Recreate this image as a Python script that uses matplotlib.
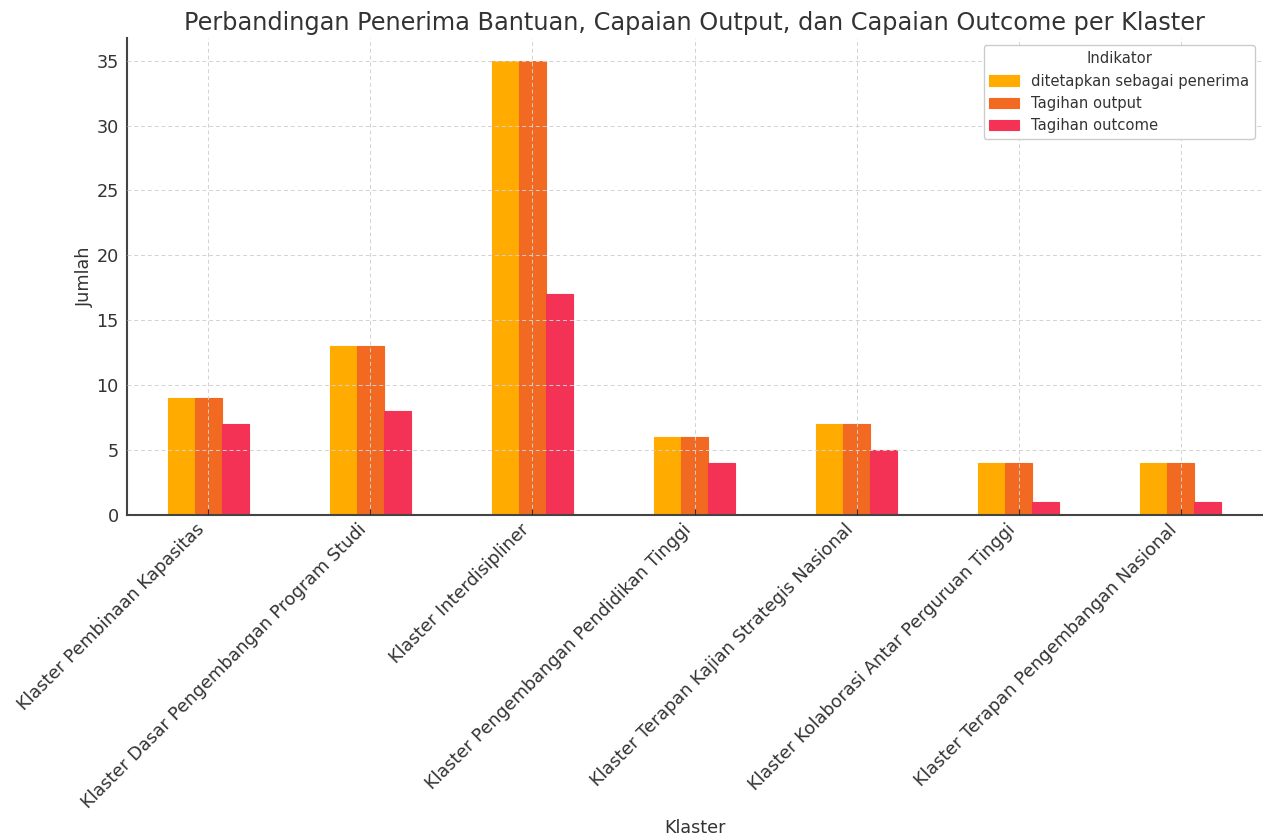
import matplotlib
matplotlib.use("Agg")
import matplotlib.pyplot as plt
import numpy as np

klaster = [
    "Klaster Pembinaan Kapasitas",
    "Klaster Dasar Pengembangan Program Studi",
    "Klaster Interdisipliner",
    "Klaster Pengembangan Pendidikan Tinggi",
    "Klaster Terapan Kajian Strategis Nasional",
    "Klaster Kolaborasi Antar Perguruan Tinggi",
    "Klaster Terapan Pengembangan Nasional",
]
penerima = [9, 13, 35, 6, 7, 4, 4]
tagihan_output = [9, 13, 35, 6, 7, 4, 4]
tagihan_outcome = [7, 8, 17, 4, 5, 1, 1]

series_names = ["ditetapkan sebagai penerima", "Tagihan output", "Tagihan outcome"]
series_values = [penerima, tagihan_output, tagihan_outcome]
colors = ["#FFAB00", "#F26A22", "#F43256"]

text_color = "#333333"
scale = 1.06
plt.rcParams["font.family"] = ["DejaVu Sans"]
plt.rcParams["text.color"] = text_color
plt.rcParams["axes.labelcolor"] = text_color
plt.rcParams["xtick.color"] = text_color
plt.rcParams["ytick.color"] = text_color

fig = plt.figure(figsize=(12.63, 8.38), dpi=100)
ax = fig.add_axes([0.1006, 0.3854, 0.8986, 0.5693])

x = np.arange(len(klaster))
width = 0.5 / 3
for i, (name, vals, c) in enumerate(zip(series_names, series_values, colors)):
    ax.bar(x + (i - 1) * width, vals, width, color=c, label=name,
           edgecolor=c, linewidth=0.8, zorder=1)

ax.set_xlim(-0.5, len(klaster) - 0.5)
ax.set_ylim(0, 36.75)
ax.set_xticks(x)
ax.set_xticklabels(klaster, rotation=45, ha="right", fontsize=12 * scale)
ax.tick_params(axis="y", labelsize=12 * scale, length=0, pad=6)
ax.tick_params(axis="x", direction="in", length=4, color="#333333", pad=4)
ax.set_yticks([0, 5, 10, 15, 20, 25, 30, 35])

ax.grid(True, linestyle=(0, (4, 3)), color="#d2d2d2", linewidth=0.7, zorder=2)
ax.set_axisbelow(False)
for side in ["top", "right"]:
    ax.spines[side].set_visible(False)
for side in ["left", "bottom"]:
    ax.spines[side].set_color("#444444")
    ax.spines[side].set_linewidth(1.5)

ax.set_title("Perbandingan Penerima Bantuan, Capaian Output, dan Capaian Outcome per Klaster",
             fontsize=17.3, color=text_color, pad=6)
ax.set_xlabel("Klaster", fontsize=12 * scale)
ax.set_ylabel("Jumlah", fontsize=12 * scale, labelpad=2)
ax.xaxis.set_label_coords(0.5, (515 - 819) / 477.0)

leg = ax.legend(title="Indikator", fontsize=10 * scale, title_fontsize=10 * scale,
                loc="upper right", frameon=True, facecolor="white",
                edgecolor="#cccccc", borderaxespad=0.5)
leg.get_frame().set_alpha(1)

fig.savefig("out.png", dpi=100)
